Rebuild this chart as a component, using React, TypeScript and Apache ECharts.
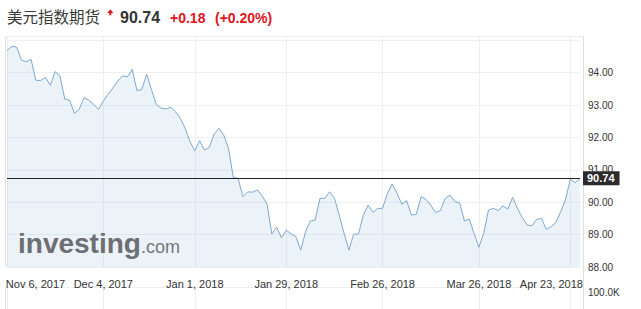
import React, { useEffect, useRef } from "react";
import * as echarts from "echarts";

// ---- data ----
const startDate = "2017-11-06";
const holidays = ["2017-12-25", "2018-01-01", "2018-03-30"];

const prices = [
  94.68, 94.81, 94.79, 94.39, 94.33, 94.41, 93.76, 93.76, 93.85, 93.61,
  94.03, 93.9, 93.18, 93.15, 92.74, 92.87, 93.23, 93.15, 93.02, 92.87,
  93.12, 93.33, 93.53, 93.74, 93.9, 93.87, 94.1, 93.44, 93.48, 93.95,
  93.48, 93.02, 92.9, 92.88, 92.93, 92.79, 92.59, 92.28, 91.87, 91.59,
  91.9, 91.61, 91.69, 92.1, 92.28, 92.07, 91.66, 90.77, 90.73, 90.17,
  90.32, 90.31, 90.38, 90.19, 89.94, 89.02, 89.23, 88.9, 89.14, 89.02,
  88.94, 88.52, 89.09, 89.42, 89.45, 90.12, 90.12, 90.32, 90.12, 89.6,
  89.04, 88.52, 89.01, 89.02, 89.6, 89.91, 89.69, 89.81, 89.81, 90.27,
  90.56, 90.27, 89.94, 90.05, 89.6, 89.63, 90.17, 90.09, 89.91, 89.68,
  89.74, 90.12, 90.22, 90.02, 89.98, 89.42, 89.48, 89.04, 88.61, 89.04,
  89.76, 89.81, 89.74, 89.88, 89.79, 90.15, 89.81, 89.53, 89.3, 89.27,
  89.47, 89.5, 89.16, 89.24, 89.38, 89.71, 90.09, 90.71, 90.6, 90.74,
];

const tickDates = [
  "2017-11-06", "2017-12-04", "2018-01-02", "2018-01-29",
  "2018-02-26", "2018-03-26", "2018-04-23",
];
const tickLabels = [
  "Nov 6, 2017", "Dec 4, 2017", "Jan 1, 2018", "Jan 29, 2018",
  "Feb 26, 2018", "Mar 26, 2018", "Apr 23, 2018",
];

const titleText = "美元指数期货";
const lastText = "90.74";
const changeText = "+0.18";
const changePctText = "(+0.20%)";

function buildTradingDays(start: string, count: number, skip: string[]): string[] {
  const out: string[] = [];
  const [y, m, d] = start.split("-").map(Number);
  const dt = new Date(Date.UTC(y, m - 1, d));
  while (out.length < count) {
    const wd = dt.getUTCDay();
    const s = dt.toISOString().slice(0, 10);
    if (wd !== 0 && wd !== 6 && !skip.includes(s)) out.push(s);
    dt.setUTCDate(dt.getUTCDate() + 1);
  }
  return out;
}

const categories = buildTradingDays(startDate, prices.length, holidays);

const FONT = "Liberation Sans, Arial, sans-serif";

export default function App() {
  const ref = useRef<HTMLDivElement>(null);

  useEffect(() => {
    if (!ref.current) return;
    const chart = echarts.init(ref.current, null, { renderer: "svg" });
    const isTick = (_: number, v: string) => tickDates.includes(v);
    const last = prices[prices.length - 1];
    const labelColor = "#333";
    const frame = "#dcdfe3";

    chart.setOption({
      animation: false,
      backgroundColor: "#fff",
      grid: [
        { left: 7, right: 61, top: 36, bottom: 42 },
        { left: 7, right: 61, top: 287, height: 40 },
      ],
      xAxis: [
        {
          type: "category",
          gridIndex: 0,
          data: categories,
          boundaryGap: false,
          axisLine: { show: false },
          axisTick: { show: false },
          splitLine: { show: true, interval: isTick, lineStyle: { color: "#edf0f3", width: 1 } },
          axisLabel: {
            interval: isTick,
            margin: 11,
            fontSize: 11,
            color: labelColor,
            fontFamily: FONT,
            formatter: (v: string) => {
              const k = tickDates.indexOf(v);
              if (k < 0) return "";
              if (k === 0) return `{first|${tickLabels[k]}}`;
              if (k === tickDates.length - 1) return `{last|${tickLabels[k]}}`;
              return tickLabels[k];
            },
            rich: {
              first: { padding: [0, 0, 0, 57], fontSize: 11, color: labelColor, fontFamily: FONT },
              last: { padding: [0, 38, 0, 0], fontSize: 11, color: labelColor, fontFamily: FONT },
            },
          },
        },
        {
          type: "category",
          gridIndex: 1,
          data: categories,
          boundaryGap: false,
          axisLine: { show: false },
          axisTick: { show: false },
          axisLabel: { show: false },
          splitLine: { show: true, interval: isTick, lineStyle: { color: "#edf0f3", width: 1 } },
        },
      ],
      yAxis: [
        {
          type: "value",
          gridIndex: 0,
          position: "right",
          min: 88,
          max: 95.13,
          interval: 1,
          axisLine: { show: false },
          axisTick: { show: false },
          splitLine: { show: true, lineStyle: { color: "#edf0f3", width: 1 } },
          axisLabel: {
            margin: 8,
            fontSize: 10,
            color: labelColor,
            fontFamily: FONT,
            formatter: (v: number) => (v > 94.5 ? "" : v.toFixed(2)),
          },
        },
        {
          type: "value",
          gridIndex: 1,
          position: "right",
          min: 0,
          max: 130000,
          interval: 100000,
          axisLine: { show: false },
          axisTick: { show: false },
          splitLine: { show: false },
          axisLabel: {
            margin: 8,
            fontSize: 10,
            color: labelColor,
            fontFamily: FONT,
            formatter: (v: number) => (v === 100000 ? "100.0K" : ""),
          },
        },
      ],
      series: [
        {
          type: "line",
          xAxisIndex: 0,
          yAxisIndex: 0,
          data: prices,
          symbol: "none",
          lineStyle: { color: "#7ea8d2", width: 1 },
          areaStyle: { color: "rgba(150,185,220,0.27)", origin: "start" },
          markLine: {
            silent: true,
            symbol: ["none", "none"],
            data: [{ yAxis: last }],
            lineStyle: { color: "#222", width: 1, type: "solid" },
            label: {
              position: "end",
              distance: 3,
              formatter: () => last.toFixed(2),
              backgroundColor: "#2b2b2b",
              color: "#fff",
              fontWeight: "bold",
              fontSize: 11,
              fontFamily: FONT,
              padding: [2, 5, 1, 4],
            },
          },
          z: 3,
        },
      ],
      graphic: [
        { type: "line", shape: { x1: 5.5, y1: 36.5, x2: 583.5, y2: 36.5 }, style: { stroke: frame, lineWidth: 1 }, silent: true },
        { type: "line", shape: { x1: 5.5, y1: 36.5, x2: 5.5, y2: 267 }, style: { stroke: frame, lineWidth: 1 }, silent: true },
        { type: "line", shape: { x1: 583.5, y1: 36.5, x2: 583.5, y2: 309 }, style: { stroke: frame, lineWidth: 1 }, silent: true },
        { type: "line", shape: { x1: 5.5, y1: 287.5, x2: 5.5, y2: 309 }, style: { stroke: frame, lineWidth: 1 }, silent: true },
        { type: "line", shape: { x1: 5.5, y1: 287.5, x2: 583.5, y2: 287.5 }, style: { stroke: "#eceff2", lineWidth: 1 }, silent: true },
        {
          type: "text", left: 7, top: 8, silent: true,
          style: { text: titleText, fontSize: 15.5, fill: "#3a3a3a", fontFamily: "Noto Sans CJK SC, sans-serif" },
        },
        {
          type: "polygon", silent: true,
          shape: { points: [[110.3, 9.3], [113.4, 13], [111.3, 13], [111.3, 15.3], [109.3, 15.3], [109.3, 13], [107.2, 13]] },
          style: { fill: "#e0141e" },
        },
        {
          type: "text", x: 120, y: 17, silent: true,
          style: { text: lastText, fontSize: 16, fontWeight: "bold", fill: "#333", fontFamily: FONT, verticalAlign: "middle" },
        },
        {
          type: "text", x: 170, y: 18, silent: true,
          style: { text: changeText, fontSize: 14, fontWeight: "bold", fill: "#e0141e", fontFamily: FONT, verticalAlign: "middle" },
        },
        {
          type: "text", x: 215, y: 18, silent: true,
          style: { text: changePctText, fontSize: 14, fontWeight: "bold", fill: "#e0141e", fontFamily: FONT, verticalAlign: "middle" },
        },
        {
          type: "text", x: 18, y: 243, silent: true, z: 10,
          style: { text: "investing", fontSize: 28, fontWeight: "bold", fill: "#6e6f72", fontFamily: FONT, verticalAlign: "middle" },
        },
        {
          type: "text", x: 141, y: 247, silent: true, z: 10,
          style: { text: ".com", fontSize: 18, fill: "#75767a", fontFamily: FONT, verticalAlign: "middle" },
        },
      ],
    });
    return () => chart.dispose();
  }, []);

  return (
    <div
      ref={ref}
      style={{ position: "fixed", left: 0, top: 0, width: 641, height: 309 }}
    />
  );
}
